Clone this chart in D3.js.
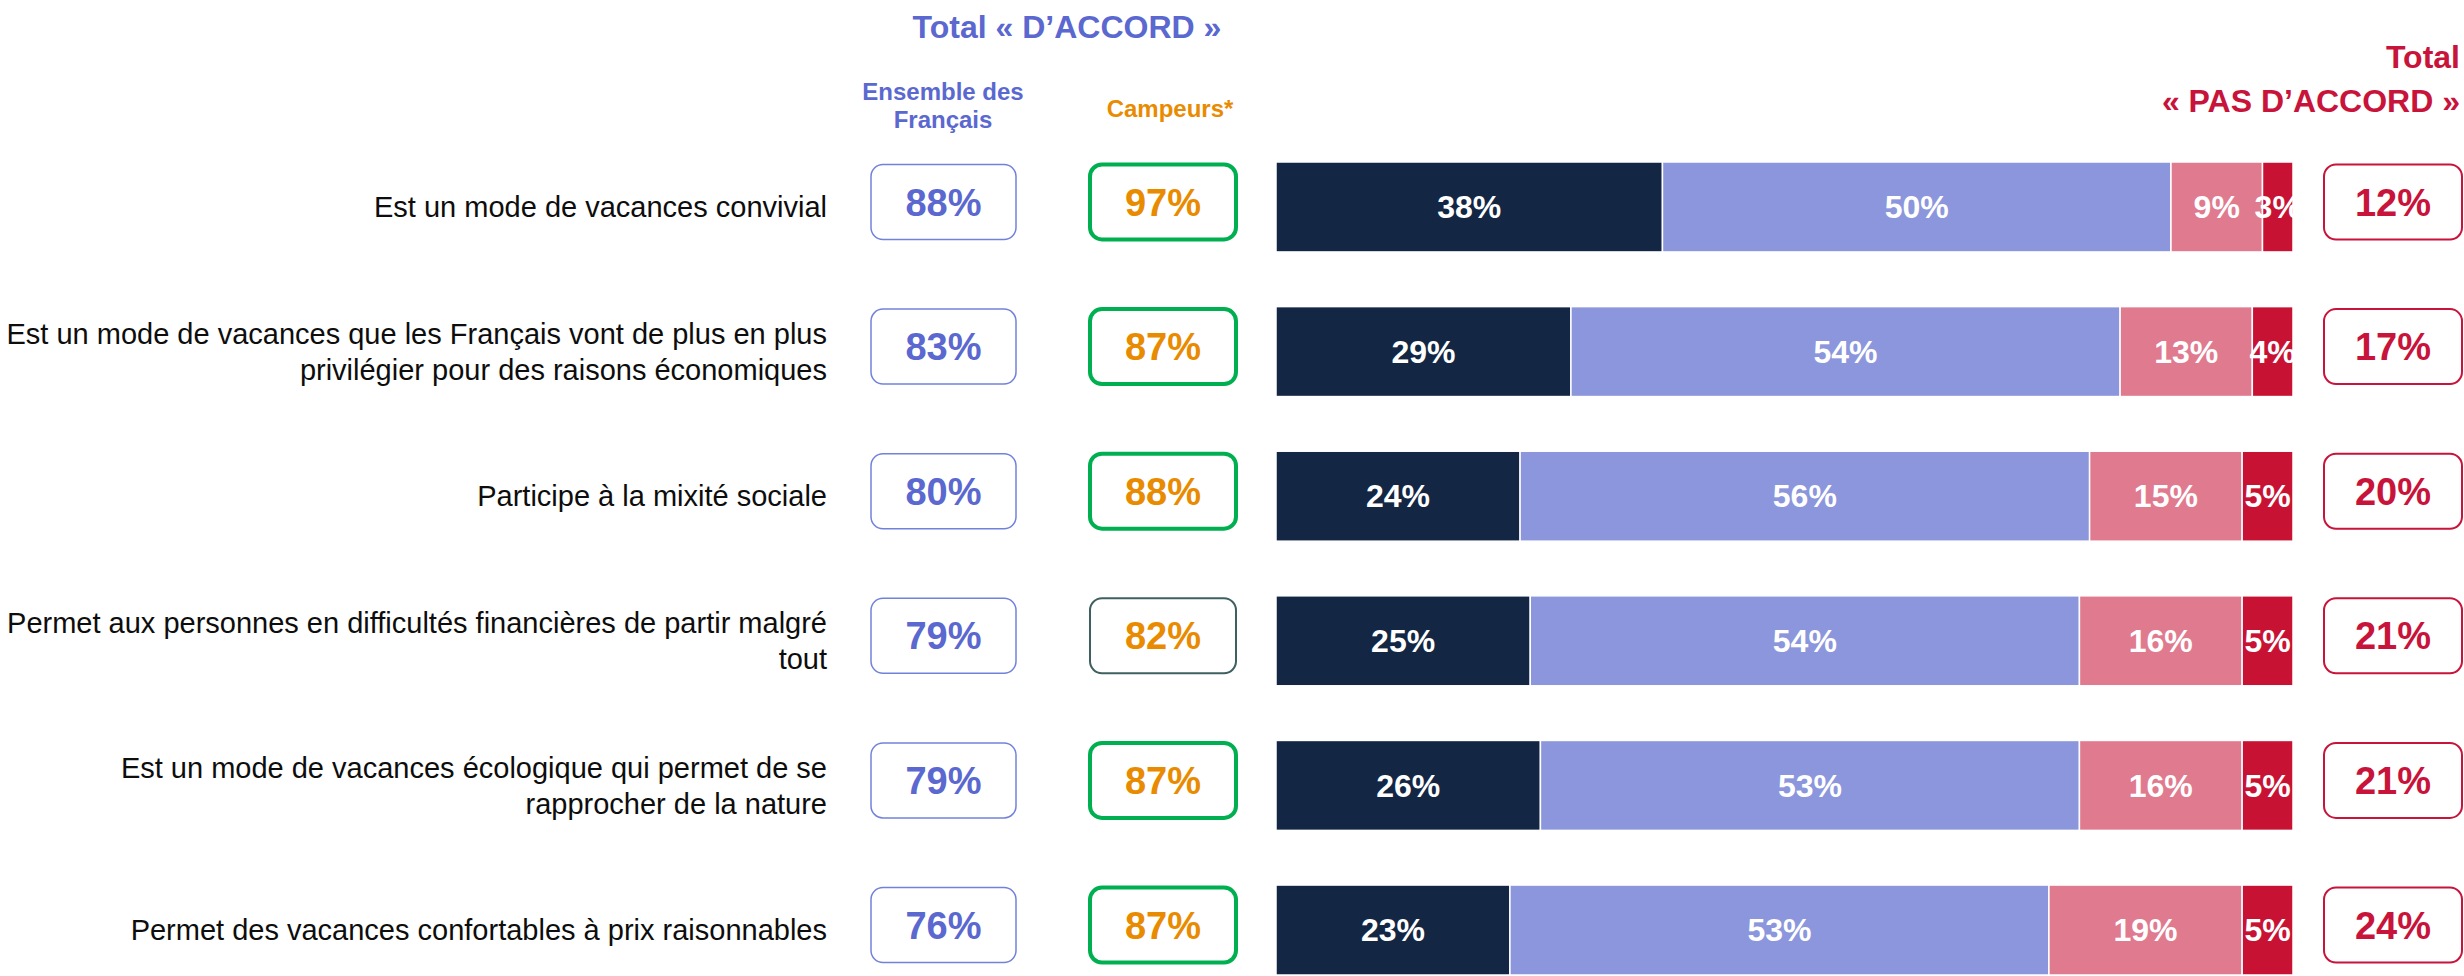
<!DOCTYPE html>
<html>
<head>
<meta charset="utf-8">
<script src="https://cdn.jsdelivr.net/npm/d3@7"></script>
<style>
  html, body { margin: 0; padding: 0; background: #fff; }
  svg { display: block; font-family: "Liberation Sans", Arial, sans-serif; }
</style>
</head>
<body>
<div id="chart"></div>
<script>
// --- data ---
const categories = [
  'Est un mode de vacances convivial',
  'Est un mode de vacances que les Français vont de plus en plus\nprivilégier pour des raisons économiques',
  'Participe à la mixité sociale',
  'Permet aux personnes en difficultés financières de partir malgré\ntout',
  'Est un mode de vacances écologique qui permet de se\nrapprocher de la nature',
  'Permet des vacances confortables à prix raisonnables'
];
const series = ['Tout à fait d’accord', 'Plutôt d’accord', 'Plutôt pas d’accord', 'Pas du tout d’accord'];
const toutAFait = [38, 29, 24, 25, 26, 23];
const plutot = [50, 54, 56, 54, 53, 53];
const plutotPas = [9, 13, 15, 16, 16, 19];
const pasDuTout = [3, 4, 5, 5, 5, 5];
const totalAccord = [88, 83, 80, 79, 79, 76];
const totalCampeurs = [97, 87, 88, 82, 87, 87];
const totalPasAccord = [12, 17, 20, 21, 21, 24];

// --- styles ---
const colors = ['#132644', '#8b96dc', '#e07a8f', '#c81234'];
const blue = '#5a68cf';
const orange = '#e98b00';
const red = '#c8133a';
const campeursBorder = ['#00b050', '#00b050', '#00b050', '#3f6060', '#00b050', '#00b050'];
const campeursWidth = [4, 4, 4, 2, 4, 4];

const width = 2464;
const height = 976;

const svg = d3.select('#chart')
    .append('svg')
    .attr('width', width)
    .attr('height', height);

const rows = categories.map((c, i) => {
  const vals = [toutAFait[i], plutot[i], plutotPas[i], pasDuTout[i]];
  let acc = 0;
  const segs = vals.map((v, k) => {
    const s = { cat: c, row: i, k: k, x0: acc, x1: acc + v, val: v };
    acc += v;
    return s;
  });
  return { cat: c, i: i, segs: segs };
});

const yScale = d3.scaleBand()
    .domain(categories)
    .range([162, 975])
    .paddingInner(0.378)
    .paddingOuter(0);

const xScale = d3.scaleLinear()
    .domain([0, 100])
    .range([1276, 2293]);

const bw = yScale.bandwidth();
const mid = c => yScale(c) + bw / 2;

// headers
svg.append('text')
    .attr('x', 1067).attr('y', 38)
    .attr('text-anchor', 'middle')
    .style('font-size', '32px').style('font-weight', 'bold')
    .attr('fill', blue)
    .text('Total « D’ACCORD »');

svg.append('text')
    .attr('x', 943).attr('y', 100)
    .attr('text-anchor', 'middle')
    .style('font-size', '24px').style('font-weight', 'bold')
    .attr('fill', blue)
    .selectAll('tspan')
    .data(['Ensemble des', 'Français'])
    .enter()
    .append('tspan')
    .attr('x', 943)
    .attr('dy', (d, i) => i ? 28 : 0)
    .text(d => d);

svg.append('text')
    .attr('x', 1170).attr('y', 117)
    .attr('text-anchor', 'middle')
    .style('font-size', '24px').style('font-weight', 'bold')
    .attr('fill', orange)
    .text('Campeurs*');

svg.append('text')
    .attr('x', 2460).attr('y', 68)
    .attr('text-anchor', 'end')
    .style('font-size', '32px').style('font-weight', 'bold')
    .attr('fill', red)
    .text('Total');

svg.append('text')
    .attr('x', 2460).attr('y', 112)
    .attr('text-anchor', 'end')
    .style('font-size', '32px').style('font-weight', 'bold')
    .attr('fill', red)
    .text('« PAS D’ACCORD »');

// row labels
svg.selectAll('.row-label')
    .data(categories)
    .enter()
    .append('text')
    .classed('row-label', true)
    .attr('text-anchor', 'end')
    .style('font-size', '29px')
    .attr('fill', '#0d0d0d')
    .each(function (d) {
      const lines = d.split('\n');
      const y0 = mid(d) - (lines.length - 1) * 18;
      d3.select(this).selectAll('tspan')
          .data(lines)
          .enter()
          .append('tspan')
          .attr('x', 827)
          .attr('y', (l, j) => y0 + j * 36)
          .attr('dy', '0.35em')
          .text(l => l);
    });

// labels may spill left, but are cut at the end of the bar
svg.append('defs')
    .append('clipPath')
    .attr('id', 'bar-clip')
    .append('rect')
    .attr('x', 0)
    .attr('y', 0)
    .attr('width', xScale(100))
    .attr('height', height);

// stacked bars
const rowG = svg.selectAll('.row')
    .data(rows)
    .enter()
    .append('g')
    .classed('row', true);

rowG.selectAll('.bar')
    .data(d => d.segs)
    .enter()
    .append('rect')
    .classed('bar', true)
    .attr('x', d => xScale(d.x0))
    .attr('y', d => yScale(d.cat))
    .attr('width', d => xScale(d.x1) - xScale(d.x0))
    .attr('height', bw)
    .attr('fill', d => colors[d.k])
    .attr('stroke', '#fff')
    .attr('stroke-width', 1.5);

rowG.append('g')
    .attr('clip-path', 'url(#bar-clip)')
    .selectAll('.bar-label')
    .data(d => d.segs)
    .enter()
    .append('text')
    .classed('bar-label', true)
    .attr('x', d => (xScale(d.x0) + xScale(d.x1)) / 2)
    .attr('y', d => mid(d.cat))
    .attr('dy', '0.35em')
    .attr('text-anchor', 'middle')
    .style('font-size', '32px').style('font-weight', 'bold')
    .attr('fill', '#fff')
    .text(d => d.val + '%');

// total boxes
function boxes(cls, values, x, w, h, stroke, strokeW, textColor) {
  const g = svg.selectAll('.' + cls)
      .data(values)
      .enter()
      .append('g')
      .classed(cls, true)
      .attr('transform', (d, i) => `translate(${x},${mid(categories[i]) - 5})`);
  g.append('rect')
      .attr('x', 0)
      .attr('y', -h / 2)
      .attr('width', w)
      .attr('height', h)
      .attr('rx', 12)
      .attr('fill', '#fff')
      .attr('stroke', (d, i) => typeof stroke === 'function' ? stroke(i) : stroke)
      .attr('stroke-width', (d, i) => typeof strokeW === 'function' ? strokeW(i) : strokeW);
  g.append('text')
      .attr('x', w / 2)
      .attr('y', 0)
      .attr('dy', '0.36em')
      .attr('text-anchor', 'middle')
      .style('font-size', '38px').style('font-weight', 'bold')
      .attr('fill', textColor)
      .text(d => d + '%');
}

boxes('box-ensemble', totalAccord, 871, 145, 75, '#7282da', 1.5, blue);
boxes('box-campeurs', totalCampeurs, 1090, 146, 75, i => campeursBorder[i], i => campeursWidth[i], orange);
boxes('box-pas', totalPasAccord, 2324, 138, 75, red, 2, red);
</script>
</body>
</html>
